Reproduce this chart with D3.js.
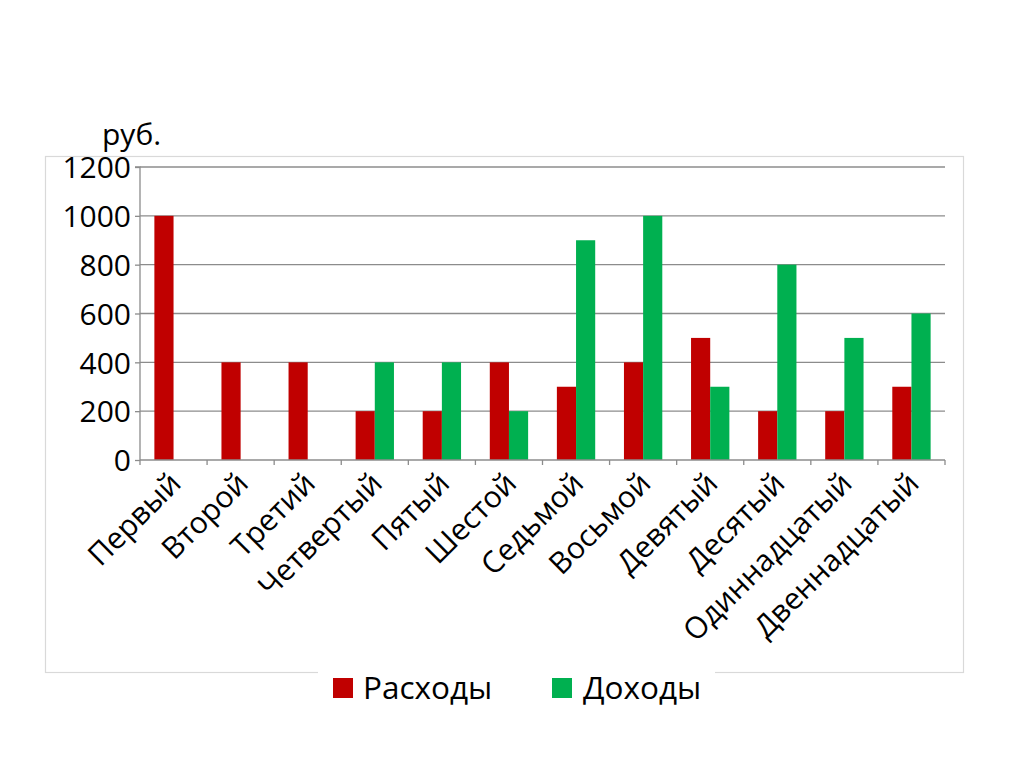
<!DOCTYPE html>
<html><head><meta charset="utf-8">
<script src="https://cdn.jsdelivr.net/npm/d3@7"></script>
<style>body{margin:0;background:#fff}svg{display:block}text{font-family:"Open Sans",sans-serif;fill:#000}</style>
</head><body><svg id="c" width="1024" height="768"></svg>
<script>
const categories = ["Первый","Второй","Третий","Четвертый","Пятый","Шестой","Седьмой","Восьмой","Девятый","Десятый","Одиннадцатый","Двеннадцатый"];
const expenses = [1000,400,400,200,200,400,300,400,500,200,200,300];
const incomes  = [0,0,0,400,400,200,900,1000,300,800,500,600];
const seriesNames = ["Расходы","Доходы"];
const seriesColors = ["#C00000","#00B050"];
const yTicks = [0,200,400,600,800,1000,1200];
const unitLabel = "руб.";

const svg = d3.select("#c");
const L=140, R=945, T=167, B=460;
// outer border
svg.append("rect").attr("x",45.5).attr("y",156.5).attr("width",918).attr("height",516).attr("fill","none").attr("stroke","#d9d9d9").attr("stroke-width",1.2);

const x = d3.scaleBand().domain(categories).range([L,R]).paddingInner(0).paddingOuter(0);
const y = d3.scaleLinear().domain([0,1200]).range([B,T]);
const bw = x.bandwidth()/3.5;
const xs = d3.scaleBand().domain([0,1]).range([0.75*bw, 2.75*bw]);

// gridlines
svg.append("g").selectAll("line").data(yTicks.filter(d=>d>0)).join("line")
  .attr("x1",L).attr("x2",R).attr("y1",d=>y(d)).attr("y2",d=>y(d)).attr("stroke","#8c8c8c").attr("stroke-width",1.3);

// bars
const data = [expenses, incomes];
data.forEach((vals,si)=>{
  svg.append("g").selectAll("rect").data(vals.map((v,i)=>({c:categories[i],v}))).join("rect")
    .attr("x",d=>x(d.c)+xs(si)).attr("width",xs.bandwidth())
    .attr("y",d=>y(d.v)).attr("height",d=>B-y(d.v)).attr("fill",seriesColors[si]);
});

// y axis
const ya = svg.append("g").attr("transform",`translate(${L},0)`)
  .call(d3.axisLeft(y).tickValues(yTicks).tickSize(5).tickPadding(4).tickFormat(d3.format("d")));
ya.select(".domain").attr("stroke","#8c8c8c").attr("stroke-width",1.3).attr("d",`M-5,${T}H0V${B}`);
ya.selectAll(".tick line").attr("stroke","#8c8c8c").attr("stroke-width",1.3);
ya.selectAll(".tick text").attr("font-size",30).attr("font-family","Open Sans").attr("fill","#000").attr("dy","0.36em");

// x axis
const xa = svg.append("g").attr("transform",`translate(0,${B})`)
  .call(d3.axisBottom(x).tickSize(0).tickFormat(""));
xa.select(".domain").attr("stroke","#8c8c8c").attr("stroke-width",1.3).attr("d",`M${L},0H${R}`);
xa.selectAll(".tick").remove();
const bounds = categories.map((c,i)=>x(c)).concat([R]);
xa.selectAll("line.t").data(bounds).join("line").attr("class","t")
  .attr("x1",d=>d).attr("x2",d=>d).attr("y1",0).attr("y2",5).attr("stroke","#8c8c8c").attr("stroke-width",1.3);
svg.append("g").selectAll("text").data(categories).join("text")
  .attr("transform",d=>`translate(${x(d)+x.bandwidth()/2-6},${B+10}) rotate(-45)`)
  .attr("text-anchor","end").attr("dy","0.72em").attr("font-size",30).text(d=>d);

// unit label
svg.append("text").attr("x",102).attr("y",145).attr("font-size",30).text(unitLabel);

// legend
svg.append("rect").attr("x",318).attr("y",668).attr("width",397).attr("height",12).attr("fill","#fff");
const lg = [{x:333,tx:363},{x:552,tx:583}];
seriesNames.forEach((n,i)=>{
  svg.append("rect").attr("x",lg[i].x).attr("y",678).attr("width",20).attr("height",20).attr("fill",seriesColors[i]);
  svg.append("text").attr("x",lg[i].tx).attr("y",699).attr("font-size",31.5).text(n);
});
</script></body></html>
